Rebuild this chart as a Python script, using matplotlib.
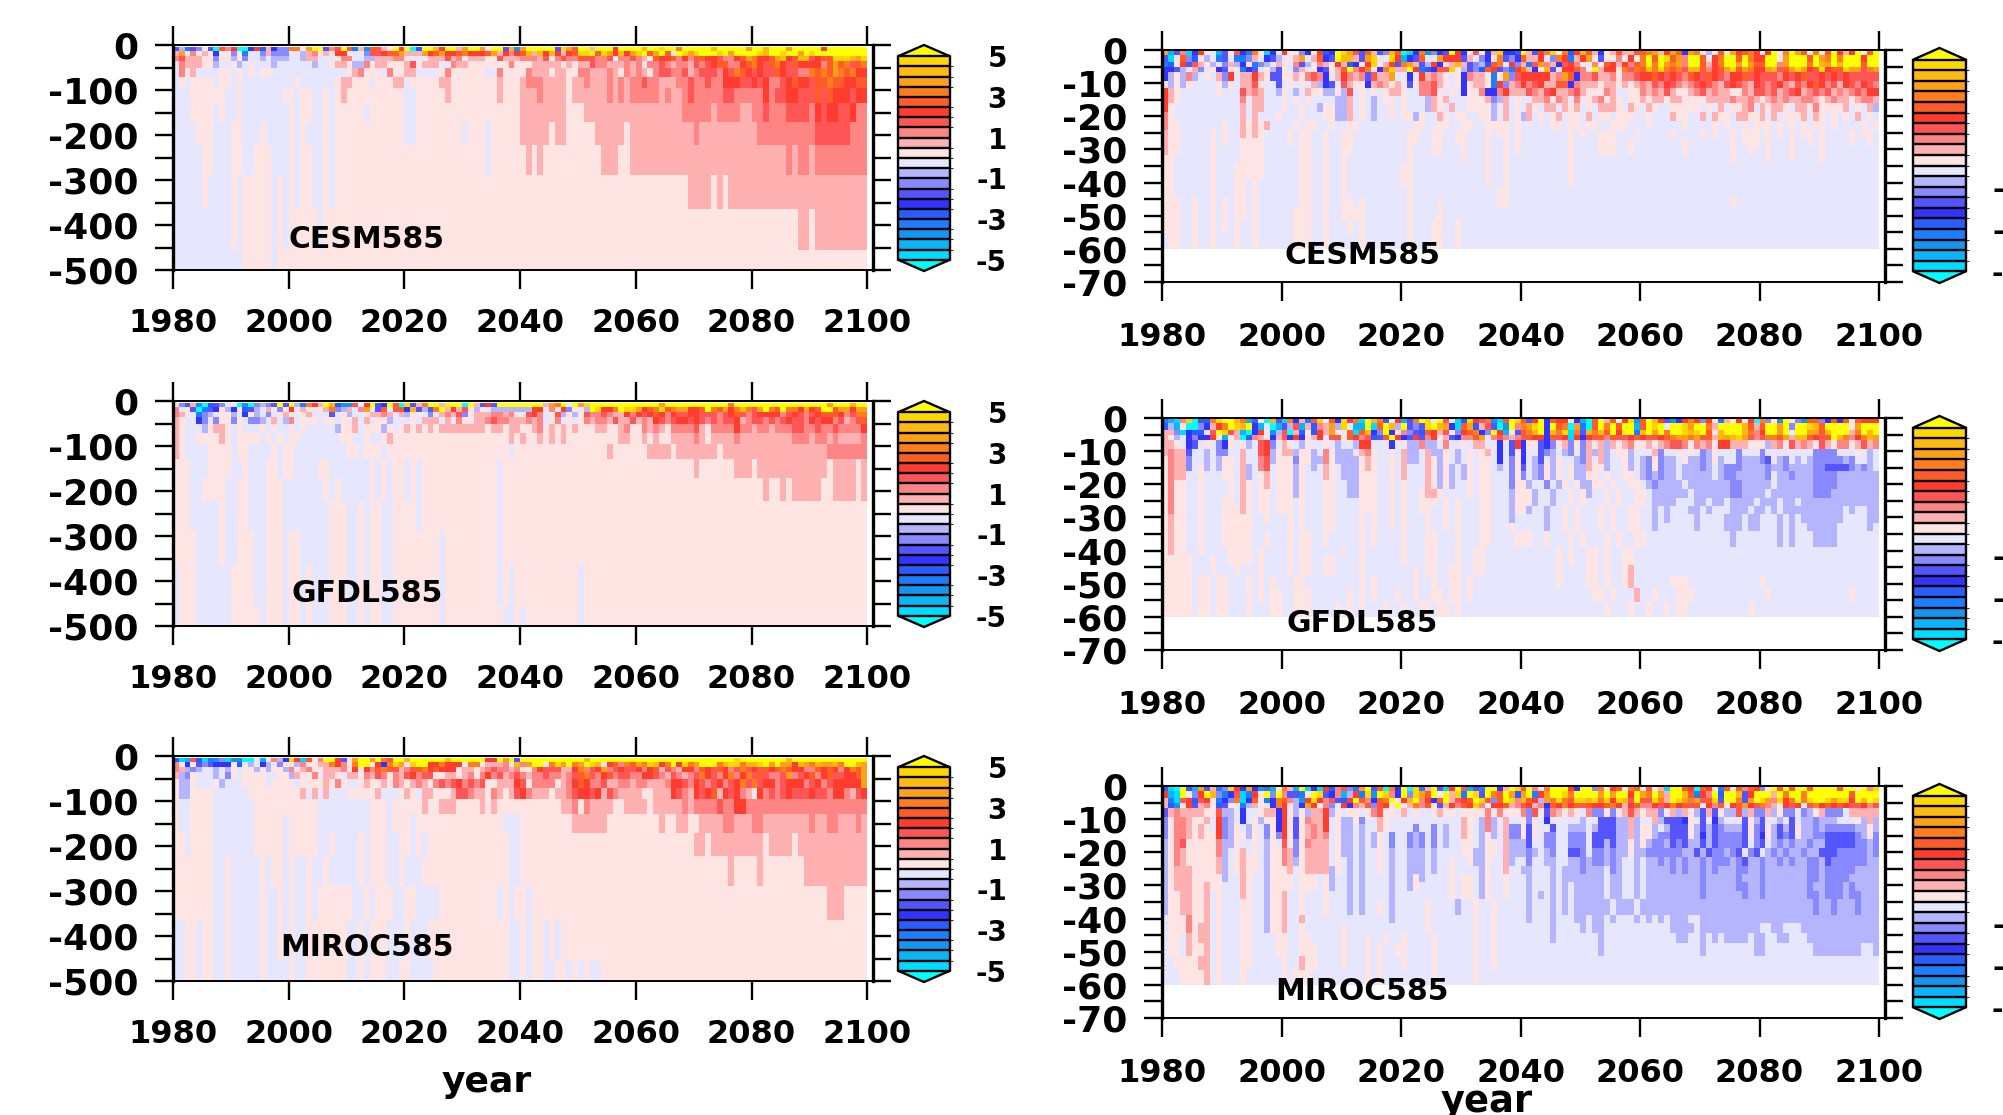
import re

import matplotlib
matplotlib.use("Agg")
import matplotlib.pyplot as plt
import numpy as np
from matplotlib.colors import BoundaryNorm, ListedColormap

plt.rcParams["font.family"] = "DejaVu Sans"
plt.rcParams["font.weight"] = "bold"
plt.rcParams["axes.unicode_minus"] = False

# colour classes, cold to warm
CODES = "KJIHGFEDCBAabcdefghijk"
CLASS_VALUES = [-5.5, -4.75, -4.25, -3.75, -3.25, -2.75, -2.25, -1.75, -1.25, -0.75, -0.25,
                0.25, 0.75, 1.25, 1.75, 2.25, 2.75, 3.25, 3.75, 4.25, 4.75, 5.5]
BAND_COLORS = ["#00dcff", "#0ab4f5", "#1496f0", "#1e7dff", "#2a5cff", "#3333ff", "#5555ff", "#8888ff",
               "#b5b5ff", "#e6e6ff", "#ffe4e4", "#ffb0b0", "#ff8585", "#ff5555", "#ff3c2e", "#ff5c28",
               "#ff7d1e", "#ffa01a", "#ffb80f", "#ffd700"]
BOUNDS = np.arange(-5, 5.5, 0.5)

YEARS = np.arange(1980, 2101)
DEPTH_500 = [4, 13, 25, 36, 52, 72, 96, 129, 170, 223, 288, 364, 455, 500]
DEPTH_60 = [0, 1.5, 3.6, 5.2, 6.5, 9.3, 11.6, 13.8, 16, 18.8, 21.3, 24, 26.7, 29, 31.7, 34,
            38.8, 41.3, 44.3, 47.5, 51.4, 55.4, 60]

# rows run top to bottom, letter + repeat count, one column per year;
# the part after | is tied to the last years of the row
CESM_500 = [
    "DBGDCADKfceK2EeFbEC2g2ahk2DcdkfGbHf2bakekKFk2iek2bhk2hak2DiHhk5Djhfk2bk3ek|k3ik2jk2gk5ik5hk2ik3hk5ek7",
    "bhacabaEa2CaGA2CbC3A2Bbcabae2A3Cd2ef2hb3hefhe2fge3fhbecefibieiebefj2kfjheijf|ehjkfhkfakjhjkkkjkhkkkkjikkjkkhkjkkkkkkkkk",
    "cdbb2a2Ca2BaCA2BAB3A2Bb2A3ac2A2B2b3c2aA3b3dbcab3a2db3c3bdacdc2fd2c2dac2|cdcbafeefcecdfeedccefhgeefhiefiideffjjjihj",
    "acbb2a2BA2aBAaA3BA6BA2ab2aB2cab2a3bdab3A2cb2a3a4caa2b5abab2dc2b3ca3|cbcaccdcbccbdcdeffccefgedfgedfeeeecfhfgdfg",
    "AcabA4a2AaAaAa2A13abca3Aca2b2AA3aca6A2ca3acb3ab2a2c2b3cbacbcd2cac2|cbcbacddccdbcdddcedgfededdfeddccgfgfhgfgee",
    "AaAa4Aa2AaA9aA6ab2a3Aa3b2Aa5b2a8ba3bc3b4ab2cb3cbcbc2dc2b3c2dc2dc2e3d2edec2defe2df2gf2e2f2",
    "A3a6A2aA7a2Aa2A2aAabaa9A2a5ba8ba3b3cb4ab6cbcbc5bcb2cdc5d2c5ecd2e2d3fdfe3de2",
    "A3a4AaA2aA8aAa2A2aAa5Aa6A2a18b8a3b17c5bc4b2c2dc3d4cede2d2ec3",
    "A4a3A3a2A3aA4aAaA3aAa12A2a8Aa3Aa5b5ab2a5b5ab11cb10c10d6c3",
    "A5a2A3a2A2a3A3aAa2A2aAa26Aa6baba10b3a2b27cbc2bc9",
    "A5aA4aAa5AaAaAa2A2aAa61b4abab|ab24",
    "A10aAa5AaAa5Aa82b2ab9",
    "A12a5Aa102",
]
GFDL_500 = [
    "ACDbHKFDCAAKHKCBCDkDkBGgebkiFHHdAekDEkfKjDbgkkbkkkKkbDeDkkkk|k2bhgkAkhjk12hk11gk16hk3ik2",
    "cAaDKGDEaBEaFDBAbaCaeAbaaAbgCBbAchADfAdfEiDBDgkbebdaBaAB|eeAcaeCaABkjeegkjjhefgjfghheefkgfhegigdhkgfkggehefkkfhhehh",
    "cbaAGCBAa2BAEaBACAabAa2bA3DAaBA2ab2cbAbBa2ACAbcbdCab3c2bca3|decAadBaBadccdcbbecedefeceddeedddcdefdcdeeeecdedcdefffecdgg",
    "baA2ECACaaCaAC2BAbABcAa2aAa2Aa2bAbAa2BA2AaAbb2AbAca2b2cdc2b3|cbcAacAaAacbccbdbbdbcbedcdeededcdcddebcddcdcdeddcedeecdbcdf",
    "baA3Bab2aAaA3aAaA2aAaA5BaabAa3BaAabababab8ab2ab2a2b8cbabab|bcabababaaabbaabcaacbcbac4dbac4ec2bc2bc3d2c2dc2dc4e",
    "baA2a4baAa4AaAaAa2A7a2A2aA2abaa19bababa9b2a2|abababa9b2a2baba2b4cbab4cb9c3bc2bcb4c",
    "baA4a4Aa2A4aAa2A9a2Aa3Aa21Aa16ba6b4ab7ab18c",
    "a3A3a4A2aA3a2Aa2A4a2A7aAaAa2AaAa13Aa|a28ba6b3ab12ab4ab",
    "a3A2a4A2a2A3a3A7aAaA5aAaAa2AaAa13Aa|a40ba2bab5a2b4ab",
    "a3A5aA2a2A3a3A8a3A2aAa2A2a4Aa13Aa63",
    "a4A4aA2a3A2a3Aa2A5a3A2aAa2A2a8Aa9Aa63",
    "Aa3A6a4A2a3Aa2AaA3a3A2aAa2A2a8Aa9AaAa11Aa49",
    "Aa3A6a5Aa3Aa2AaA3a3A2aAa2A2a8Aa10A2aAa9Aa49",
]
MIROC_500 = [
    "FJIdFJGHCJH2K2AIacBEjeJfack2eDahk2hkgfk2ik6ik6e2khkDk2k|k9ik25jk8ik13",
    "caEaDCDE3aFABAEBACa2Bcaab2gecagk2aeEgjhajk2e2ge3Ag2ab3caich|kkagjhkghkjiaefcgfhgjiegkejghkkkgijjgiijkhkhheihgihhigkkih",
    "cbBCBA2BABaAa2BaBa2Bcabca2b3caeaecfgfdbcdfgefe3ab2abcdc2bca|cedddbbegcdehcdeddecefbdcbeecfedfecdgdedfefgfeeccfefecegfh",
    "bBCaA3BACaAa4A2a2Bba2cAb2aAb2acbdcacbdecd2a2b2abcacecdbcdcb|ccdccbcdfgdcefcddcceedcbdcbcdgedcegcegdfdccdhcdefcefddeefh",
    "aB2aA3aBA3a4Aa4Aa3abacaA2abaabacbabcbacdcdecdcda2b3edadbcdc|ccccabcefeccdbbccbccbbbceedcedcdecdegdgdeecdeeecdecdeeeeeh",
    "aB2a4A6a7a2bAbAbA3a5bA3abaAb2a3bd2cb2acbabdecdedbcdcabcbcad|bbbabbcdeedebdcbbbbaabbbedcbedefbedecbaecdcdedddeddceecbde",
    "aA2a4A7a11A9a3Aa5ba2b3a4baba2a9b2cacb4a2b4ab3b2cbc4dc2e2c19",
    "aA2a4A7a5Aa5A9a3Aa3Aa15A3a|a9b6a9ba2b2a2b2b2c2b3c2b8cb2c2b3cb3c",
    "a2Aa4A7a5Aa5A2aA4aAa3A2a2AaAa14A2a|a28b2ab9ab4ab12",
    "a7A2aA5aAa2AaA2aA2aA5aAa3A2aA3a15A2a|a34ba4ba7b11",
    "a7A2aA5aA2aAaA2aAa6A2aAa3A2a2A4a10AaAa2A2aAa|a51b3a4",
    "A2a2Aa2A2aA5aA2aAaA2a7A2aAa3A3aA3a14A2aAa2AaAa49",
    "A2a2Aa2A2aA5aA4aA2a7A2aAa3A2a2A4a13A2aAa2A2a2AaAaA2a46",
]
CESM_60 = [
    "hIDcJEeaAIDadEGgaJEAeaACEaeFEkjhdDfbDCifKJEgHCEDkeEadaEbjEEFkbDegjagFeifbEabfb|ffghbehfEhgaBafahefgeaekagkhfagafkebekafk",
    "DJAfCFaBAGDAGGCbAEDBAabhAbfEDkiibDhjAAjeIEDfAAheeeDbACEagDCEfbbeACgeGbehaDaaca|eagkfkjfhckkfaegkkfkgeekkahkkkfkhgkgkkkekk",
    "GFaeDdbaBACbBEaGCBAbaAcDBAcbaebFEaejabeDghbDBeEAbibDCBFfgAeCbGdhcbEdecaAcafebe|cfgkgkhghckkfbegkkhkhffkkchkkkgkihkikkkfkk",
    "EEDBAbCAaEDaaGEDAaBDaACbAaEDabfkcegaEgjbbkeGFEfdjaBDCFfeDCGegbEaiDAeefcakbeeag|dgfigjgfgdiifcefhjfhgeehidfhjhefjeffjhhdgh",
    "EBaBcBAaAbCeAbbebaDDaabacdcEAbecbcDdbbhAAEAebcbaAaEcbbaGahCdeeeeebchfEccdbbcac|cdeefededcfedfedceefdedddcedefddedededdddd",
    "aBaBaAAAAaBaAbbdaAADAaAaAbBEDAdbaaEbcbabaDaccdbaAaEabbaGeCbcecdebbfdEcbbbabbab|abcbdcedcbcdedcbdedcbedcdecbdcefecdbedcedc",
    "ebaAAAAAAaAAAdbcbAABaABAbaaBBaBdAaAaAabbaAAccdaAaAEaacEEcebbbdcbdebbcdbaaacbAA|aacbcbdbaabcdbcbbaacbddcdbcdebcdcdbcbcdcee",
    "ebaAAAAAAAAAAcAbbAAAaAaAaAAAABBbAaABAaaAaAAABbabAAAaaabCBbAaAAbbcacbAcaabcabaA|aababbabbaaaabbbbcbbcbabcbcbbccbabcbbabccb",
    "eaAAAAAAAAAAAbAbbAAAaAAaAABaaBBbAaABAAaAaAAABbaAbAAaaaaBAbAaAbaAbbAbabAaAbbbaA|baAbaAAaaaaaAaAbAaabcAbabbaAbbacaaaabAaAbB",
    "caAAAAAAAAAAAbAbAAAaAAAaAAAaaBBbAaABAAaAaaBaAAbaAaaAAaaBAbAaBbAaAabAaaAbAaaAaa|aAAaAAAbaaAAbAbaaAbbaabAbAaaabAbaAaAaAbAaA",
    "ca2A7aA2bababA4aAa2A2aA2a2A9a2A2a2A2a2A2a2a2AaA5a2Aa2Aa2A2a3A3aA5aA4aAaA2aAa3AaAaAaAa2AaA4aAa2A",
    "ba2A5aAaA2babaA4aAa2A2aA2a2A9a2A2a2A2a2A3aAa2AaA8aAaA2a3A3aA5aA4aAaA2aAa3AaAaAaAa2AaA4aAa2A",
    "ba2A5aAaA2a4A4aAa2A2aA2a2A9a2A2a2A2a2A3aA2aAaA8aA4a3A2aA8aA7aAa3AaA3aA2aAaA4aA2aA",
    "ba2A5aA4a4A6a2A2aA2a2A9aA3a2A3aA3aA2aAaA8aA4a3A2aA8aA7aA2aA2aA3aA4aA9",
    "a2A6aA4a4A6a2A2aA2aA10aA8aA3aA2aA10aA26aA5aA3aA4aA9",
    "a2A6aA3a5A6a2A2aA2aA9a2A12aA2aA10aA51",
    "a2A6aA3a2AaA7a2A2aA2aA9a2A12aA2aA10aA51",
    "a2A6aA3a2AaA7a2A2aA2aA10aA14a2A62",
    "a3A2aA2aAaAa2AaA7a2A2aA2a2AaA7aA4aA9a2A37aA24",
    "a3A2aA2aAaAa2AaA6a3A2aA2a3aA7aA4aA73",
    "a3A2aA2aAaAaA2aA6a3A2aA3aAaA7aA3a2A2aA70",
    "Aa2A2aA2aA3aA2aA6a3A2aA5aA7aA3a2A2aA70",
]
GFDL_60 = [
    "GIJcjKFFgjkkigIDAKiDJgEbGdjafEjegJkigDAeIDgkjAkdAJFjedgHJfkj|fDekEfeeAEIKfkbfaejHfkieDHEegeCeaGbaeAeKgCaHkaCHffCEfEfAfeee",
    "FBIaKKCEbegkjikEIAKIDBdIbFcbhBjAIIkJfkiBkDCDjkihEJfhFbdDKHkc|ghjkEkfgKhGKfkgkfkkIfkjkakkjhkkgbkkkkifbfkkhkCkkjifkkkkahkkk",
    "bbCJEFFAdkjdbIKEeAHBdKbFaFebhaAfJfiECkEacCDFfebdaCefgECkeIAD|fgikEigjJgDigifkekkGikhkgkkjijkfaikkkigcekkhkAkkhhfikkkbgkik",
    "baBAECEEeaIabKFcbaEbdEeEabeAdfafecdFDfkeEDeDceabDEccfhAcdcbc|dfeeEfdeJeEedfcfddefedfefghhghffbihijhdcdggfhbiifedfkigcegih",
    "bbaAEDAaACEaAaBAdeCAbaABaAAaABAABeeAAAEAaBBcBBAcAAaAbbAAEADe|EaaDECabCaCbabBbabcaababcddcacbcaeebbbaaaBbcadbcbadbaccabdbc",
    "bcbbDAABACCAAbAAdeBabbBaaBAcaBBBAbcaAAaAbBBAbBBaABAaAabAEADa|EAADCBABCACbBbBAaaBAAAbCAAaAaACBaAAACAAACAAAAAAAACCCCAAAaABA",
    "acbbCAABABaaAbAAcdBaaaCaaBBcaBBBBabaAAaAbBBAbaBaABAaAaaAEACa|EABDABaAABCbAbBAAaBABCaCBBAaBBCBaBAACBBBCDABCABABCCCCCBCAABA",
    "acbbCAaBABaaAbBAcdAaaaBaABAbaABBBabaAAaAbAAAbaBaBABaAaaABACa|DABCaBaAaBBbaaBAAaBABCaCBBABBBCBABCCCBBBBCBBCBBBBCCDDDDCBCBA",
    "acbbAAaAAAaaAbBAabAaaaBaAAAbaABBBaaaAAaAbAAAbaBaBABaAaaAAACa|CABCaBaAaBBaaAaAAaaABCBCBBABBBBBABCCBBBBBCABBCBBBCCCCBBBBBBB",
    "acaaAAaAAAAaAbaAabAaaaBaAAAaaAABBaaaAAaAaAAAbaBaBAAaAaaAAACa|BAACABaAaBBaaAaAAaaABCBBBBABBBBBBBCCBBBBBABBBBBBCCCCBBBBBBB",
    "acaaAAaAAAAaAbaAaaAaaaBaAAAaaAABBaaaAAaAaAAabbaAAAAaAaaAAABa|BAABAAaAaBAAaAaAAaaABBBBBBABBBBBBCCBBBBABBBBBBBCCCBBBBBBBB",
    "acaaAAaAAAaaAbaAaaAaaaAaAAAaaAAAAaaaAAaAaAAaaaAaAaAAAaaAAABa|BAABAAaAaAAAaAaAAaaABBBBAAABBABBABBBBABBBABBABBBBBBBBBBBBB",
    "acaaAAaAAAaaabaAaaAaaaAaAAAaaAAAAaaaAAaAaAAaaAAaAaAAAaaAAABa|BAABAAaAaAAAaAaAAaaAABABAAABBABAAABBBABBABABBBBBBBBBBABAABB",
    "abaaAAaAAAaaaaaAAaAAAaAaAAAaaAAAAaAaAAaAaAAAaAAaAaAAAaaAAABA|AAABAAaAaAAAaAaAAaaAABABAAAABAAAABBBABBAAABABABBBBBBBAAAABB",
    "abaaAAaAAAaaaaaAAAAAAaAaAAAaaAAAAaAaAAaAaAAAaAAaAaAAAaaAAAaA|AAABAAaAaAAAaAaAAaaAABAAAAAABAAAABBBABBAAABABAABBBBBAAAAABA",
    "abaaAAaAAAaaaaaAAaAAAaAaaAAaAAAAAaAaAAAAaAAAaaAAAaAAAaaAAAAa|AAaAAAaAaAAAaAaAAaaAAAAAAAAAAAAAABAAAAAAABABAAABBBBAAAAAAA",
    "abaaAAaAAAAaaaaAaAAAAaAaaAAAAAaAAaAAAAAAaAAAaaAAAaAAaaAAAAAA|AAAAAAaAaAAaaAaAAaaAA40",
    "aaaaaAAAaAAaaaaAaAAAAaAaaAAaaAAAAaAAAAAAaAAAaaAAAaAAaaAAAAAA|AAAAAAaAaAAaaAaAAaaAA40",
    "aaaaaAAAaAAAaAAAaAAAAaAaaAAaaAAAAaAAAAAAAAaAaaAAaaAAaaAAAAAA|AAAAAAaAAAAaaAaAAabAA40",
    "aaaaaAaaAaaAAAaAaAaAAAaaAAAAAAAAAaAaAAAAAAaAAaAAaaAaAAAAAAAA|AAAAAAaAAAAaaAaAAabAAAAAAaaaAAAAAAAAAAAAaAAAAAAAAAAAAAAAAAAA",
    "aaaaaAaaAaaAAAaAaAaaAAaaaAAAAAAaAaAaAAAaAAaAAaaAaaAaAAAAAAAA|AAAAAAAAAAAaaAaAAAbAAaAAAaaaAAAAAAAAAAAAaAAAAAAAAAAAAAaAAAA",
    "aaaaaAaaAaaAAAaAAAaaAAaaaAAAAaAaAaAAAaAAaAAaaAaaAaAAAAAAAA|AAAAAAAAAAAAAAaAAAaAAaAAaAaaAAAAAAAAAAaAAAAAAAAAAAAAAAAAAAAA",
]
MIROC_60 = [
    "FJKkFIhDbGCjeEhEHGIagbIkJEJeFcdCGhkDfKgEkKjGbkDJekdIDGkkEbkj|fkcagkkkeEkkCgaefagfafabJkkfeKfeaGfafcfeCakfkfkkfkkkkfkkakcj",
    "eIJkaCekiCGEdJGeakCkcDDGakjDEcIBeGjHkjcEkCjhfkakbjGkjDkgfkhF|hkGehkkjgkkkkhkhkkekhgkhbkkifGeckFkkiDekkkbkgkkgkkkkkkkfkkkk",
    "bGJdeFdeaGECgJEfaGEgfcBHejecdDFekfcEfgkaeikceEfkbdefkjfCfkjc|ifeBhgjgfjjijgjejidkfdjgbkjhghdfjDkkgDhkjhcjegkgjkkjhjjekikj",
    "bFHaeDbcaFDaAGBbaAEgeaBEheacCAeEcbfCfeakabgcfaDbecfejcAeefbc|debcEfegefdfeefgebefccedegefdfaecfaefhedgcbaedeadgefefeddecd",
    "DbcbbbbaadBBAEAAabbEeaBaBbbeBaAaaAacdaaAbAaAAabaaAaaaacacaaa|cCdaDcbabaAcCCaCabdbabbCabBbaBDbDaBBdBbCCbBaCCACBabCCCAbbbbb",
    "CaccbaabAeCBAEAaBaaEeaDacbbeAaBBaCAAbaAAAAAAAAAAAAbaABcBAbAA|aCaAEAAAAABAADDDBBbBAAbBDDDEaADAEBAAADaBDAABADABBCBBBAAAaBbB",
    "CaccbabaAeCBaABaACaEeaDabcbeAaBBABAAbaAAAACAACABAAbaABcBAbCC|aDaAADAABBBABDDDBBbBaaBABDDDaBDBDCBBBDaCDaBDBDaBBCBCCCCCBBaB",
    "CaccbabaaeCBaaBaACaCeaDabcbcAaBBABABaACAACBCACABAAbaABaBAbCC|aDaACCAACCCADDDDBBbBaaBCCDDDaBEBDCCCCDaCEaBDCDaBBCCDDDDDCBaC",
    "BacdaaaaacBBaAAaABaAdaCacbbbAaBBABABaACAACBCACABAAaaABaaAbBB|BDAACCAACCCADDBDBBaBaBCCBDCDBBDBDCCCCDACDABCBCBBCBBDDDDDCCBC",
    "BacbaaaaacBAabAaABaacbCabbbbAaBBABAAaABAABBBABAAAAaaBBaaAbBB|BCBABCAADDCACCBCBBaBBCCCCCCBBDBDCCBCDACDABCBCBBCBBDDDCCCCCBC",
    "BacbaaaaabBAabaaABaacbBabbbbAaABABAAaABAABBBABAAaAAaBBaAAbBA|ACAABBAABBCBCCBCBAABABBCBCBCBBCBCCCBCDBBCBBCBCBBCCBDCCCCCCBB",
    "BabbbaaaabBAabaaABaaabAabbbbBaABABAAaABAABBBABAAaAAAABaAAbAA|BBAAABABBBCBBBACBAABABBBBCBCBBCBCBBBCCBBCBBBBBBBCCBCCCCCBBBB",
    "BabbbaaaaaBAAbaAABaaaaAaaaAaBAABABAAAABAABaBAAAAaAaaABaAAaAA|ABAAABABBBBBBBABBAABABBBBBBBBBCBBBBBCBBBCBBBBBBBCCBCCCCBBBBB",
    "BabbbaabaaAAAbaAABaaaaAaaaAaBAABABAAAABAABaAAAAAaAaaABaAAaAA|ABAAABABABBBBBABBAABABBBBBBBBBCBBBBBCCBBCBBBBBBBCBBCCCBCBBBB",
    "BaabbaabAaAAAbaAABaabAAaAAAaAAABABAAAABAAAAAAAAAaAaaABaAAaAA|ABABABABABBBBBABBAABABBBBBBBBBCBBBBBBCBBCBBBBBBBCCBCCCBCCBBB",
    "BaabbaabAaAAAaaAABaabAAaAAAaAAABABAAaABAAAAAaAAAABAAaAAaAAAA|ABAAABABABBBBBBABBBABBBBBBBBBBBBBBBBBBBBBBBBBBBBBCBBCBBBCBBB",
    "AaaacaabAaAAAaaAABaabAAbAAAAAAAAAAAAAABAAAAAaAAAAAAAaAAaAAAA|ABAAABAAABBABBABAAABABABABBBAABBBBBBBBBBBBBBBBBBBBBBBBBBBBBB",
    "AaaacabbAaAAAaaAABaabAAaAAAAAAaAAAAAAAAAAAAAaAAAAAAAaAAaAAAA|AAAAABAAAABABBAAAAAAAAAAABBBBABBBBBBBBBBAABBAAABBBBBBBBBBBBB",
    "AaaAbabbAaAAAaaAAAAaaAAaaAAAAAaAAAaAAaAAaAAAAaAAAAAAaAAaAAAA|AAAAABAAAAAAABAAAAAAAAAAAABBAABABABBBBABBAABBAAABBBBBBBBBBBB",
    "AaaAbaabAaAAAaaAAAAaaAAaaaAAAAaAAAaAaAAaaAAAAaAAAAAAaAAaAAAA|AAAAAAAAAAAAABAAAAAAAAAAAAAAAABAAAAAAAABBAAAAAAAABBBBBBBBAAB",
    "AAaaaabbAaAAAaaAAAAAaAAbaaAAAAaAAAaAaAAAaAAAAaAAAAAAaAAaAAAA|A60",
    "AAAaaaabAaAAAaAAAAAAaAaaaAAAAAAAAAaAaAAAAAAAAaAAAAAAaAAAAAAA|A60",
]

PANELS_500 = [("CESM585", CESM_500), ("GFDL585", GFDL_500), ("MIROC585", MIROC_500)]
PANELS_60 = [("CESM585", CESM_60), ("GFDL585", GFDL_60), ("MIROC585", MIROC_60)]

XTICKS = [1980, 2000, 2020, 2040, 2060, 2080, 2100]
BAR_TICKS = [5, 3, 1, -1, -3, -5]

W, H = 2003, 1115
N_COLS = 120


def expand(text):
    table = dict(zip(CODES, CLASS_VALUES))
    vals = []
    for ch, num in re.findall(r"([A-Ka-k])(\d*)", text):
        vals += [table[ch]] * (int(num) if num else 1)
    return vals


def decode(rows):
    out = []
    for row in rows:
        head, _, tail = row.partition("|")
        head = expand(head)
        tail = expand(tail)[:60]
        n_head = N_COLS - len(tail)
        head = (head + [head[-1]] * N_COLS)[:n_head]
        out.append(head + tail)
    return np.array(out)


def box(x0, y0, x1, y1):
    # pixel box (y down) to figure fractions
    return [x0 / W, 1 - y1 / H, (x1 - x0) / W, (y1 - y0) / H]


cmap = ListedColormap(BAND_COLORS)
cmap.set_under("#00ffff")
cmap.set_over("#ffff00")
norm = BoundaryNorm(BOUNDS, cmap.N)

fig = plt.figure(figsize=(W / 100, H / 100), dpi=100)


def draw_panel(label, rows, depth, pos, ymin, ymaj, ymnr, text_xy, pad_y, pad_x):
    ax = fig.add_axes(box(*pos))
    depth_edges = -np.array(depth, dtype=float)
    mesh = ax.pcolormesh(YEARS, depth_edges, decode(rows), cmap=cmap, norm=norm,
                         shading="flat", antialiased=False)
    ax.set_xlim(1980, 2101)
    ax.set_ylim(ymin, 0)
    ax.set_xticks(XTICKS)
    ax.set_yticks(np.arange(ymin, 1, ymaj))
    ax.set_yticks(np.arange(ymin, 1, ymnr), minor=True)
    ax.tick_params(axis="x", top=True, bottom=True, direction="out", length=13.5, width=1.7,
                   labelsize=23, pad=pad_x)
    ax.tick_params(axis="y", which="both", left=True, right=True, direction="out", length=13,
                   width=1.7, labelsize=26, pad=pad_y)
    for side in ["left", "right"]:
        ax.spines[side].set_linewidth(2.4)
    for side in ["top", "bottom"]:
        ax.spines[side].set_linewidth(1.4)
    fig.text(text_xy[0] / W, 1 - text_xy[1] / H, label, fontsize=21.5, ha="center", va="center",
             fontweight="bold", color="black")
    return mesh


def draw_bar(mesh, x0, x1, y0, y1, labels):
    cax = fig.add_axes(box(x0, y0, x1, y1))
    cbar = fig.colorbar(mesh, cax=cax, extend="both", extendfrac=0.0555, drawedges=True,
                        ticks=BAR_TICKS, spacing="uniform")
    cbar.outline.set_linewidth(1.7)
    cbar.dividers.set_linewidth(1.7)
    cax.tick_params(length=0, labelsize=20, pad=41)
    cax.set_yticks(BAR_TICKS)
    cax.set_yticklabels(labels, ha="right")


left_tops = [45, 401, 756]
right_tops = [50, 418, 786]
left_text_y = [239, 593, 948]
right_text_y = [255, 623, 991]

for (label, rows), top, ty in zip(PANELS_500, left_tops, left_text_y):
    mesh = draw_panel(label, rows, DEPTH_500, (173, top, 873, top + 225), -500, 100, 50,
                      (367, ty), 12, 14)
    draw_bar(mesh, 898, 950, top, top + 226, [str(v) for v in BAR_TICKS])

for (label, rows), top, ty in zip(PANELS_60, right_tops, right_text_y):
    mesh = draw_panel(label, rows, DEPTH_60, (1162, top, 1885, top + 232), -70, 10, 5,
                      (1362, ty), 12, 15.5)
    # the 5, 3, 1 labels of these bars fall past the page edge
    draw_bar(mesh, 1913, 1966, top - 2, top + 233, ["", "", "", "-1", "-3", "-5"])

fig.text(487 / W, 1 - 1082 / H, "year", fontsize=26, ha="center", va="center", fontweight="bold")
fig.text(1487 / W, 1 - 1102 / H, "year", fontsize=26.5, ha="center", va="center", fontweight="bold")

fig.savefig("out.png", dpi=100)
